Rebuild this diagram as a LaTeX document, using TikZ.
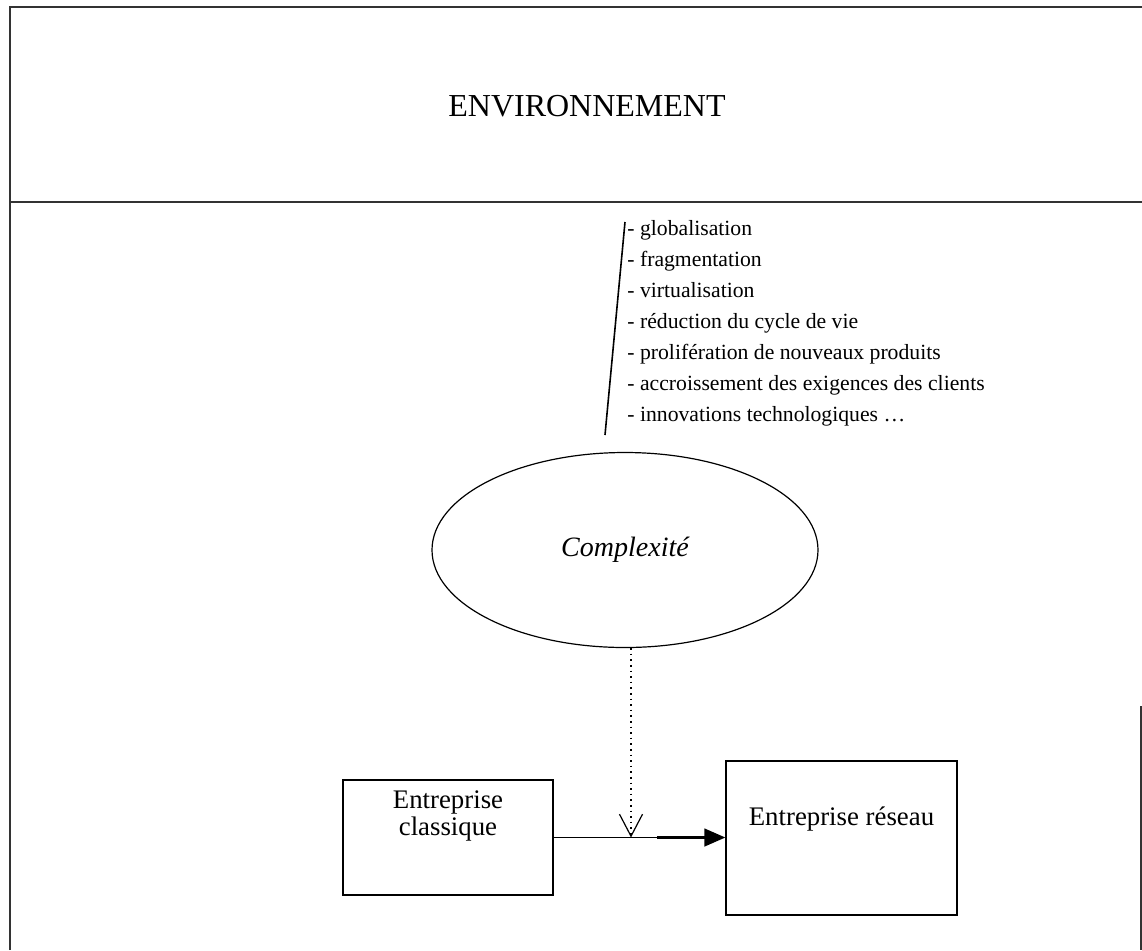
\documentclass[tikz,border=0pt]{standalone}
\usepackage{fontspec}
\setmainfont{Liberation Serif}
\usetikzlibrary{arrows.meta,shapes.geometric,calc}
\begin{document}
\begin{tikzpicture}[x=0.5pt,y=-0.5pt,
  frame/.style={line width=1pt, draw=black!80},
  box/.style={draw, line width=0.7pt, rectangle, inner sep=0pt},
  item/.style={anchor=base west, inner sep=0pt, font=\fontsize{10.85}{13}\selectfont},
  boxtext/.style={anchor=base, inner sep=0pt, font=\fontsize{13.4}{15}\selectfont}]
\useasboundingbox (0,0) rectangle (1142,950);

% outer frame and the band holding the environment title
\draw[frame] (10,950) -- (10,7) -- (1142,7);
\draw[frame] (10,202) -- (1142,202);
\draw[frame] (1141,706) -- (1141,950);
\node[inner sep=0pt, font=\fontsize{16}{18}\selectfont] (env) at (587,106) {ENVIRONNEMENT};

% list of environmental factors
\foreach \t [count=\i from 0] in {globalisation, fragmentation, virtualisation,
    réduction du cycle de vie, prolifération de nouveaux produits,
    accroissement des exigences des clients, innovations technologiques …}
  \node[item] (l\i) at (627,235+31*\i) {- \t};
\coordinate (st) at (625,222);
\coordinate (sb) at (605,435);
\draw[line width=0.8pt] (st) -- (sb);

% complexity ellipse
\node[draw, ellipse, line width=0.6pt, minimum width=193pt, minimum height=97.5pt,
      inner sep=0pt, font=\itshape\fontsize{14}{16}\selectfont] (cx) at (625,550) {Complexité};

% the two kinds of firm
\node[box, minimum width=105pt, minimum height=57.5pt] (ec) at (448,837.5) {};
\node[boxtext] (ec1) at (448,808) {Entreprise};
\node[boxtext] (ec2) at (448,835) {classique};
\node[box, minimum width=115.5pt, minimum height=77pt] (er) at (841.5,838) {};
\node[boxtext] (er1) at (841.5,825) {Entreprise réseau};

% transition arrow and the influence of complexity on it
\coordinate (m) at (631,837.5);
\coordinate (thk) at (657,837.5);
\draw[line width=0.7pt, -{Triangle[length=10.5pt,width=9pt]}] (ec.east) -- (ec.east -| er.west);
\draw[line width=1.2pt] (thk) -- ($(ec.east -| er.west)+(-10,0)$);
\draw[dotted, line width=0.8pt, -{Straight Barb[length=11pt,width=11.5pt,line width=0.6pt]}]
  (m |- cx.south) -- (m);
\end{tikzpicture}
\end{document}
